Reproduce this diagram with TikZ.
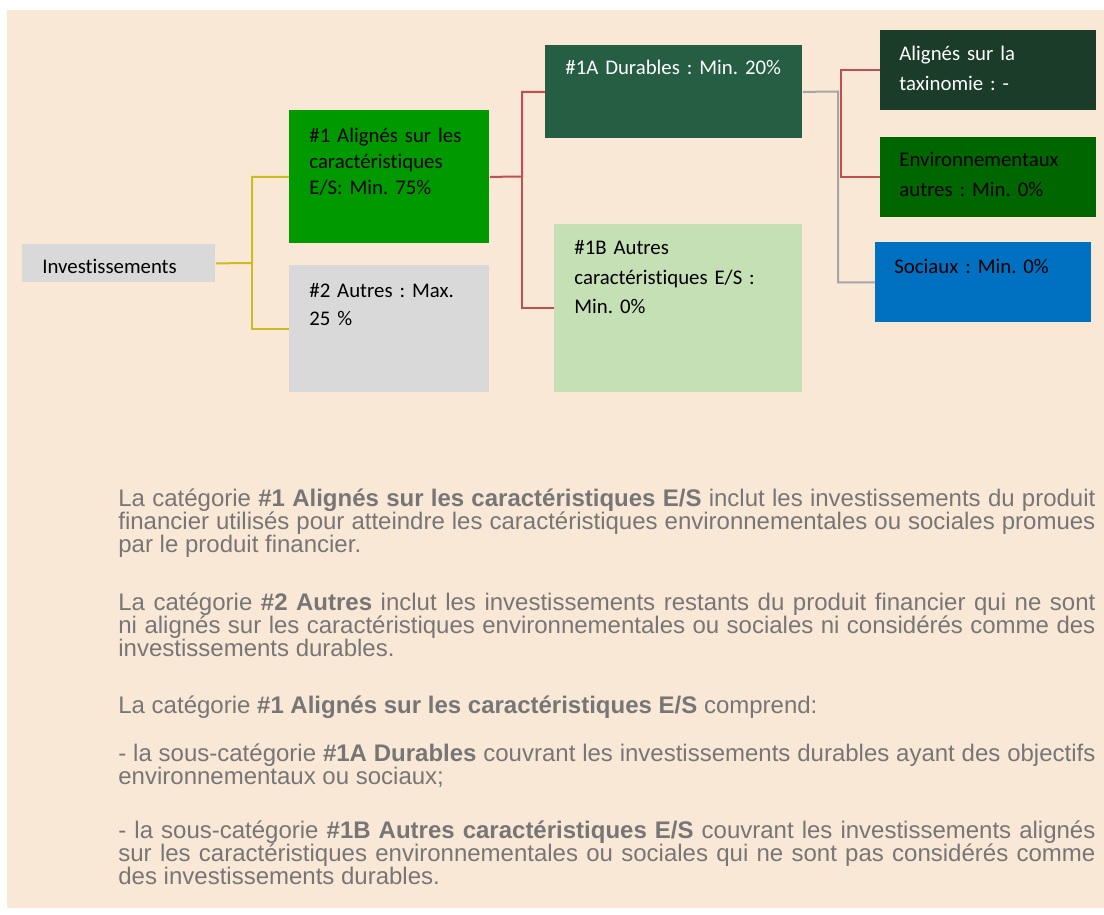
\documentclass[tikz,border=0pt]{standalone}
\usepackage{fontspec}
\setmainfont[Ligatures=NoCommon]{Carlito}
\newfontfamily\notefont{Liberation Sans}
\usepackage{xcolor}
\usepackage{tikz}
\usetikzlibrary{positioning}
\definecolor{pagebg}{RGB}{250,232,215}
\definecolor{greybox}{RGB}{217,217,217}
\definecolor{esgreen}{RGB}{0,153,0}
\definecolor{durgreen}{RGB}{37,94,66}
\definecolor{autgreen}{RGB}{197,224,180}
\definecolor{taxgreen}{RGB}{26,60,40}
\definecolor{envgreen}{RGB}{0,102,0}
\definecolor{socblue}{RGB}{0,112,192}
\definecolor{yline}{RGB}{204,187,34}
\definecolor{rline}{RGB}{192,80,77}
\definecolor{gline}{RGB}{166,166,166}
\definecolor{notegray}{RGB}{118,118,118}
\frenchspacing

\begin{document}
\begin{tikzpicture}[x=0.5pt, y=-0.5pt,
    box/.style={rectangle, anchor=north west, inner sep=0pt, minimum width=108pt, minimum height=40pt},
    boxtext/.style={anchor=base west, inner sep=0pt, text width=120pt, align=left, font=\fontsize{10.4}{15}\selectfont},
    note/.style={anchor=base west, inner sep=0pt, text width=488.5pt, align=justify, font=\notefont\fontsize{12}{11.65}\selectfont, text=notegray},
    link/.style={line width=1pt}
]

\useasboundingbox (0,0) rectangle (1104,915);
\fill[pagebg] (7,10) rectangle (1104,908);

% boxes
\node[box, fill=greybox, minimum width=96.5pt, minimum height=19pt] (inv) at (22,244) {};
\node[box, fill=esgreen, minimum width=100pt, minimum height=66.5pt] (es1) at (289,110) {};
\node[box, fill=greybox, minimum width=100pt, minimum height=63.5pt] (aut2) at (289,265) {};
\node[box, fill=durgreen, minimum width=128.5pt, minimum height=46.5pt] (d1a) at (545,45) {};
\node[box, fill=autgreen, minimum width=124pt, minimum height=84pt] (o1b) at (554,224) {};
\node[box, fill=taxgreen] (tax) at (880,30) {};
\node[box, fill=envgreen] (env) at (880,137) {};
\node[box, fill=socblue] (soc) at (875,242) {};

% box texts
\node[boxtext] (inv-t) at (42,273) {Investissements};
\node[boxtext, font=\fontsize{10.4}{13}\selectfont] (es1-t) at (309,143) {\#1 Align\'es sur les\\caract\'eristiques\\E/S: Min. 75\%};
\node[boxtext, font=\fontsize{10.4}{14}\selectfont] (aut2-t) at (309,297) {\#2 Autres : Max.\\25 \%};
\node[boxtext, text=white] (d1a-t) at (565,75) {\#1A Durables : Min. 20\%};
\node[boxtext, font=\fontsize{10.4}{14.75}\selectfont] (o1b-t) at (574,255) {\#1B Autres\\caract\'eristiques E/S :\\Min. 0\%};
\node[boxtext, text=white] (tax-t) at (899,61) {Align\'es sur la\\taxinomie : -};
\node[boxtext] (env-t) at (899,167) {Environnementaux\\autres : Min. 0\%};
\node[boxtext] (soc-t) at (894,273) {Sociaux : Min. 0\%};

% connectors
\coordinate (ysplit) at (252,263);
\coordinate (rsplit) at (522,176.5);
\coordinate (gsplit) at (838,91.5);
\coordinate (rsplit2) at (841,91.5);
\draw[link, yline] (inv.east) -- (ysplit) |- (es1.west);
\draw[link, yline] (ysplit) |- (aut2.west);
\draw[link, rline] (es1.east) -- (rsplit) |- (d1a.west);
\draw[link, rline] (rsplit) |- (o1b.west);
\draw[link, gline] (d1a.east) -- (gsplit) |- (soc.west);
\draw[link, rline] (tax.west) -| (rsplit2) |- (env.west);

% notes
\node[note] (n1) at (118,506) {La cat\'egorie \textbf{\#1 Align\'es sur les caract\'eristiques E/S} inclut les investissements du produit\linebreak financier utilis\'es pour atteindre les caract\'eristiques environnementales ou sociales promues\linebreak par le produit financier.};
\node[note] (n2) at (118,610) {La cat\'egorie \textbf{\#2 Autres} inclut les investissements restants du produit financier qui ne sont\linebreak ni align\'es sur les caract\'eristiques environnementales ou sociales ni consid\'er\'es comme des\linebreak investissements durables.};
\node[note] (n3) at (118,713) {La cat\'egorie \textbf{\#1 Align\'es sur les caract\'eristiques E/S} comprend:};
\node[note] (n4) at (118,761) {- la sous-cat\'egorie \textbf{\#1A Durables} couvrant les investissements durables ayant des objectifs\linebreak environnementaux ou sociaux;};
\node[note] (n5) at (118,838) {- la sous-cat\'egorie \textbf{\#1B Autres caract\'eristiques E/S} couvrant les investissements align\'es\linebreak sur les caract\'eristiques environnementales ou sociales qui ne sont pas consid\'er\'es comme\linebreak des investissements durables.};

\end{tikzpicture}
\end{document}
